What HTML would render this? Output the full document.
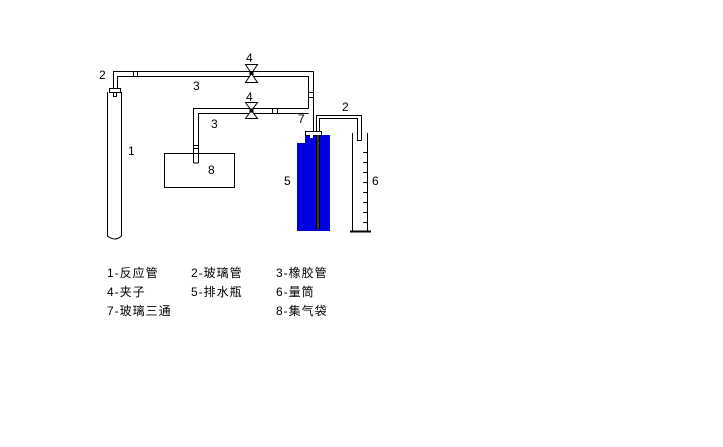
<!DOCTYPE html>
<html><head><meta charset="utf-8"><style>
body{margin:0;background:#fff;width:723px;height:442px;overflow:hidden}
svg text{font-family:"Liberation Sans","Noto Sans CJK SC",sans-serif}
</style></head><body>
<svg width="723" height="442" viewBox="0 0 723 442" xmlns="http://www.w3.org/2000/svg">
<g fill="none" stroke="#000" stroke-width="1">
<path d="M107.5,92 V236 Q115,242 121.5,236 V92"/>
<rect x="109.5" y="88.5" width="11" height="4" fill="#fff"/>
<rect x="113.5" y="92.5" width="3" height="4"/>
<path d="M113.5,88 V71.5 H313.5 V131"/>
<path d="M117.5,88 V76.5 H308.5 V108.5"/>
<rect x="133.5" y="71.5" width="4" height="5" fill="#fff"/>
<rect x="308.5" y="92.5" width="5" height="5" fill="#fff"/>
<path d="M308.5,108.5 H193.5 V163"/>
<path d="M308.5,113.5 H198.5 V163"/>
<path d="M193.5,163 H198.5"/>
<rect x="193.5" y="145.5" width="5" height="3" fill="#fff"/>
<rect x="272.5" y="108.5" width="5" height="5" fill="#fff"/>
<rect x="164.5" y="153.5" width="70" height="34"/>
<path d="M316.5,131 V115.5 H361.5 V140.5"/>
<path d="M319.5,131 V118.5 H357.5 V140.5 H361.5"/>
<path d="M352.5,133 V231 M367.5,133 V231"/>
<path d="M350,231.5 H371" stroke-width="2"/>
<path d="M363,152.5H367.5M363,162.5H367.5M363,172.5H367.5M363,182.5H367.5M363,192.5H367.5M363,202.5H367.5M363,212.5H367.5M363,222.5H367.5"/>
</g>
<g fill="#fff" stroke="#000">
<path d="M245.5,64.5 H257.5 L245.5,82.5 H257.5 Z"/>
<path d="M245.5,102.5 H257.5 L245.5,118.5 H257.5 Z"/>
</g>
<rect x="249.5" y="71" width="4" height="4" fill="#000"/>
<rect x="249.5" y="108.5" width="4" height="4" fill="#000"/>
<rect x="305" y="135" width="25" height="9" fill="#0000e0"/>
<rect x="297" y="143" width="33" height="88" fill="#0000e0"/>
<rect x="305.5" y="131.5" width="16" height="4" fill="#fff" stroke="#000"/>
<rect x="310" y="135" width="3" height="3" fill="#fff"/>
<rect x="316" y="135" width="4" height="94" fill="#000"/>
<rect x="317" y="135" width="2" height="94" fill="#334"/>
<g font-size="12" fill="#000">
<text x="128" y="155">1</text>
<text x="99" y="79">2</text>
<text x="342" y="111">2</text>
<text x="193" y="90">3</text>
<text x="211" y="128">3</text>
<text x="246" y="62">4</text>
<text x="246" y="101">4</text>
<text x="284" y="185">5</text>
<text x="372" y="185">6</text>
<text x="298" y="123">7</text>
<text x="208" y="174">8</text>
</g>
<g font-size="12" fill="#000" letter-spacing="1">
<text x="107" y="277">1-反应管</text>
<text x="191" y="277">2-玻璃管</text>
<text x="276" y="277">3-橡胶管</text>
<text x="107" y="296">4-夹子</text>
<text x="191" y="296">5-排水瓶</text>
<text x="276" y="296">6-量筒</text>
<text x="107" y="315">7-玻璃三通</text>
<text x="276" y="315">8-集气袋</text>
</g>
</svg>
</body></html>
